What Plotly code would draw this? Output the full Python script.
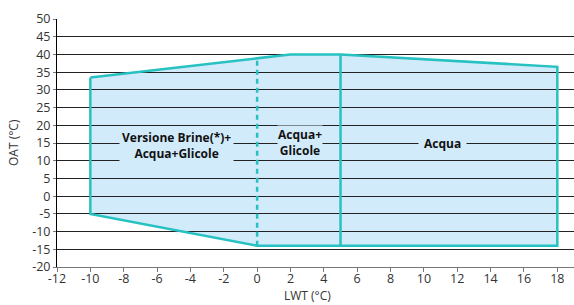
import plotly.graph_objects as go

# Operating envelope boundary (LWT °C, OAT °C)
lwt_boundary = [-10, 2, 5, 18, 18, 5, 0, -10, -10]
oat_boundary = [33.5, 40, 40, 36.5, -14, -14, -14, -5, 33.5]

# Internal separators
lwt_glycol_sep = [0, 0]
oat_glycol_sep = [-14, 39]
lwt_water_sep = [5, 5]
oat_water_sep = [-14, 40]

# Region labels
label_texts = ["Versione Brine(*)+<br>Acqua+Glicole", "Acqua+<br>Glicole", "Acqua"]
label_x = [-4.85, 2.55, 11.1]
label_y = [14.3, 15.1, 15.0]
label_pad = [2, 0, 5]

x_ticks = list(range(-12, 19, 2))
x_tick_labels = [str(v) for v in x_ticks]
y_ticks = list(range(-20, 51, 5))
y_tick_labels = [str(v) for v in y_ticks]

TEAL = "#28c1c1"
FILL = "#d1ebfb"
GRID = "#222222"

fig = go.Figure()

# Filled envelope drawn below gridlines
path = "M " + " L ".join(f"{x},{y}" for x, y in zip(lwt_boundary, oat_boundary)) + " Z"
fig.add_shape(type="path", path=path, xref="x", yref="y", layer="below",
              fillcolor=FILL, line=dict(width=0))

fig.add_trace(go.Scatter(x=lwt_boundary, y=oat_boundary, mode="lines",
                         line=dict(color=TEAL, width=2.5), hoverinfo="skip",
                         showlegend=False))
fig.add_trace(go.Scatter(x=lwt_glycol_sep, y=oat_glycol_sep, mode="lines",
                         line=dict(color=TEAL, width=2.5, dash="5px,4px"),
                         hoverinfo="skip", showlegend=False))
fig.add_trace(go.Scatter(x=lwt_water_sep, y=oat_water_sep, mode="lines",
                         line=dict(color=TEAL, width=2.5), hoverinfo="skip",
                         showlegend=False))

for t, x, y, p in zip(label_texts, label_x, label_y, label_pad):
    fig.add_annotation(x=x, y=y, xref="x", yref="y", text=f"<b>{t}</b>",
                       showarrow=False, bgcolor=FILL, borderpad=p,
                       font=dict(family="Open Sans", size=12, color="#111111"))

fig.add_annotation(x=3, y=0, xref="x", yref="paper", yshift=-28, yanchor="middle",
                   text="LWT (°C)", showarrow=False,
                   font=dict(family="Open Sans", size=12, color="#333333"))
fig.add_annotation(x=0, y=0.5, xref="paper", yref="paper", xshift=-44,
                   xanchor="center", yanchor="middle",
                   text="OAT (°C)", textangle=-90, showarrow=False,
                   font=dict(family="Open Sans", size=12, color="#333333"))

fig.update_layout(
    width=574, height=305,
    margin=dict(l=57, r=0, t=19, b=38, autoexpand=False),
    paper_bgcolor="white", plot_bgcolor="white",
    font=dict(family="Open Sans", size=12.5, color="#333333"),
    showlegend=False,
)
fig.update_xaxes(range=[-12, 19], tickvals=x_ticks, ticktext=x_tick_labels,
                 showgrid=False, zeroline=False,
                 showline=True, linecolor="#777777", linewidth=1,
                 ticks="outside", ticklen=4, tickcolor="#777777",
                 ticklabelstandoff=-4)
fig.update_yaxes(range=[-20, 50], tickvals=y_ticks, ticktext=y_tick_labels,
                 showgrid=True, gridcolor=GRID,
                 gridwidth=1, zeroline=False, showline=True, linecolor="#000000",
                 linewidth=1, ticks="outside", ticklen=3, tickcolor="#777777")

fig.write_html("out.html", config={"displayModeBar": False},
               post_script="document.body.style.margin='0';document.body.style.overflow='hidden';")
